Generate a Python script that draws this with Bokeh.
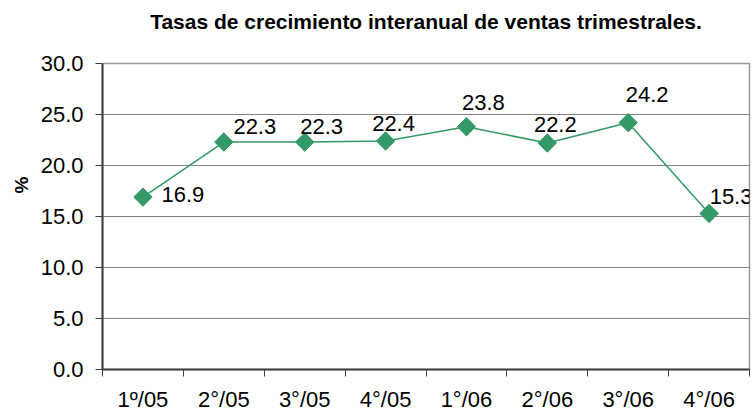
import math
from bokeh.plotting import figure
from bokeh.models import (Range1d, FixedTicker, PrintfTickFormatter, ColumnDataSource,
                          LabelSet, Title)
from bokeh.core.properties import value
from bokeh.embed import file_html
from bokeh.resources import INLINE

# ---- data ----
categories = ["1º/05", "2°/05", "3°/05", "4°/05", "1°/06", "2°/06", "3°/06", "4°/06"]
values = [16.9, 22.3, 22.3, 22.4, 23.8, 22.2, 24.2, 15.3]
value_labels = ["16.9", "22.3", "22.3", "22.4", "23.8", "22.2", "24.2", "15.3"]
y_ticks = [0, 5, 10, 15, 20, 25, 30]
title_text = "Tasas de crecimiento interanual de ventas trimestrales."
y_title = "%"

# ---- label placement (styles, screen px) ----
label_dx = [40, 31, 17, 8, 17, 8, 19, 22]
label_dy = [3, 16, 16, 18, 24, 19, 28, 17]

FONT = "Liberation Sans"
GREEN = "#339966"

n = len(categories)
centers = [i + 0.5 for i in range(n)]
bounds = [i for i in range(n + 1)]

p = figure(width=755, height=414, output_backend="svg", toolbar_location=None,
           x_range=Range1d(0, n), y_range=Range1d(0, 30),
           min_border_left=102, min_border_right=6, min_border_top=63, min_border_bottom=44)

p.background_fill_color = "white"
p.border_fill_color = "white"
p.outline_line_color = "#999999"
p.outline_line_width = 1.5

# spacer between frame and title (first item above = nearest to the frame)
p.add_layout(Title(text=" ", text_font=FONT, text_font_size="20px", standoff=0), "above")
# title
p.add_layout(Title(text=title_text, align="center", standoff=14, text_font=FONT,
                   text_font_size="21px", text_font_style="bold", text_color="black"),
             "above")

# y-axis title
p.add_layout(Title(text=y_title, align="left", offset=176, standoff=11,
                   text_font=FONT, text_font_size="19px", text_font_style="bold",
                   text_color="black"), "left")

# grid
p.xgrid.visible = False
p.ygrid.grid_line_color = "#808080"
p.ygrid.grid_line_width = 1
p.ygrid.ticker = FixedTicker(ticks=y_ticks)

# x axis: labels at category centres, ticks at boundaries
xa = p.xaxis[0]
xa.ticker = FixedTicker(ticks=centers, minor_ticks=bounds)
xa.major_label_overrides = {c: lab for c, lab in zip(centers, categories)}
xa.major_tick_line_color = None
xa.major_tick_out = 0
xa.major_tick_in = 0
xa.minor_tick_line_color = "#404040"
xa.minor_tick_out = 7
xa.minor_tick_in = 0
xa.minor_tick_line_width = 1
xa.axis_line_color = "#404040"
xa.axis_line_width = 2
xa.major_label_standoff = 10
xa.major_label_text_font = FONT
xa.major_label_text_font_size = "22px"
xa.major_label_text_color = "black"

# y axis
ya = p.yaxis[0]
ya.ticker = FixedTicker(ticks=y_ticks)
ya.formatter = PrintfTickFormatter(format="%.1f")
ya.major_tick_out = 7
ya.major_tick_in = 0
ya.major_tick_line_color = "#404040"
ya.minor_tick_line_color = None
ya.axis_line_color = "#404040"
ya.axis_line_width = 2
ya.major_label_standoff = 12
ya.major_label_text_font = FONT
ya.major_label_text_font_size = "22px"
ya.major_label_text_color = "black"

src = ColumnDataSource(dict(x=centers, y=values, lab=value_labels,
                            dx=label_dx, dy=label_dy))

p.line("x", "y", source=src, line_color=GREEN, line_width=1.5)
p.scatter("x", "y", source=src, marker="square", size=13, angle=math.pi / 4,
          fill_color=GREEN, line_color=GREEN)

labels = LabelSet(x="x", y="y", text="lab", source=src, x_offset="dx", y_offset="dy",
                  text_align="center", text_baseline="middle",
                  text_font=value(FONT), text_font_size="22px", text_color="black")
p.add_layout(labels)

open("out.html", "w").write(file_html(p, INLINE))
